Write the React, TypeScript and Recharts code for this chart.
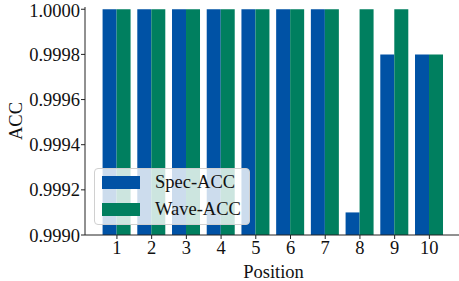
import { BarChart, Bar, XAxis, YAxis } from "recharts";

const positions = [1, 2, 3, 4, 5, 6, 7, 8, 9, 10];
const specAcc = [1, 1, 1, 1, 1, 1, 1, 0.9991, 0.9998, 0.9998];
const waveAcc = [1, 1, 1, 1, 1, 1, 1, 1, 1, 0.9998];
const yTicks = [0.999, 0.9992, 0.9994, 0.9996, 0.9998, 1.0];

const BLUE = "#0052a5";
const GREEN = "#007f5f";
const FONT = "'Liberation Serif', 'Times New Roman', serif";
const FS = 18.5;

const data = positions.map((p, i) => ({
  position: p,
  spec: specAcc[i],
  wave: waveAcc[i],
}));

// legend drawn as an overlay, like matplotlib's framed legend
function LegendBox() {
  const items = [
    { label: "Spec-ACC", color: BLUE },
    { label: "Wave-ACC", color: GREEN },
  ];
  return (
    <div
      style={{
        position: "absolute",
        left: 94,
        top: 168,
        width: 156,
        height: 57,
        boxSizing: "border-box",
        background: "rgba(255,255,255,0.8)",
        border: "1px solid #d0d0d0",
        borderRadius: 4,
        padding: "0 0 0 7px",
        fontFamily: FONT,
        fontSize: FS,
        color: "#111",
      }}
    >
      {items.map((it) => (
        <div
          key={it.label}
          style={{ display: "flex", alignItems: "center", height: 27 }}
        >
          <span
            style={{
              display: "inline-block",
              width: 38,
              height: 13,
              background: it.color,
              marginRight: 15,
            }}
          />
          <span>{it.label}</span>
        </div>
      ))}
    </div>
  );
}

export default function App() {
  return (
    <div
      style={{
        position: "absolute",
        left: 0,
        top: 0,
        width: 459,
        height: 281,
        overflow: "hidden",
        background: "#fff",
      }}
    >
      <BarChart
        width={470}
        height={281}
        data={data}
        barGap={0}
        margin={{ top: 7, right: 8, bottom: 0, left: 0 }}
      >
        <XAxis
          dataKey="position"
          type="number"
          domain={[0.08, 10.94]}
          ticks={positions}
          allowDataOverflow
          height={46}
          tickSize={4}
          tickMargin={2}
          stroke="#222"
          tick={{ fill: "#111", fontFamily: FONT, fontSize: FS }}
          label={{
            value: "Position",
            position: "insideBottom",
            offset: 3,
            fill: "#111",
            fontFamily: FONT,
            fontSize: FS,
          }}
        />
        <XAxis
          xAxisId="top"
          orientation="top"
          dataKey="position"
          type="number"
          domain={[0.08, 10.94]}
          height={0}
          tick={false}
          tickLine={false}
          stroke="#222"
        />
        <YAxis
          type="number"
          domain={[0.999, 1.00001]}
          ticks={yTicks}
          allowDataOverflow
          width={85}
          tickSize={4}
          tickMargin={1}
          stroke="#222"
          tickFormatter={(v: number) => v.toFixed(4)}
          tick={{ fill: "#111", fontFamily: FONT, fontSize: FS }}
          label={{
            value: "ACC",
            angle: -90,
            position: "insideLeft",
            offset: 15,
            fill: "#111",
            fontFamily: FONT,
            fontSize: FS,
            style: { textAnchor: "middle" },
          }}
        />
        <Bar dataKey="spec" fill={BLUE} barSize={14} isAnimationActive={false} />
        <Bar dataKey="wave" fill={GREEN} barSize={14} isAnimationActive={false} />
      </BarChart>
      <LegendBox />
    </div>
  );
}
